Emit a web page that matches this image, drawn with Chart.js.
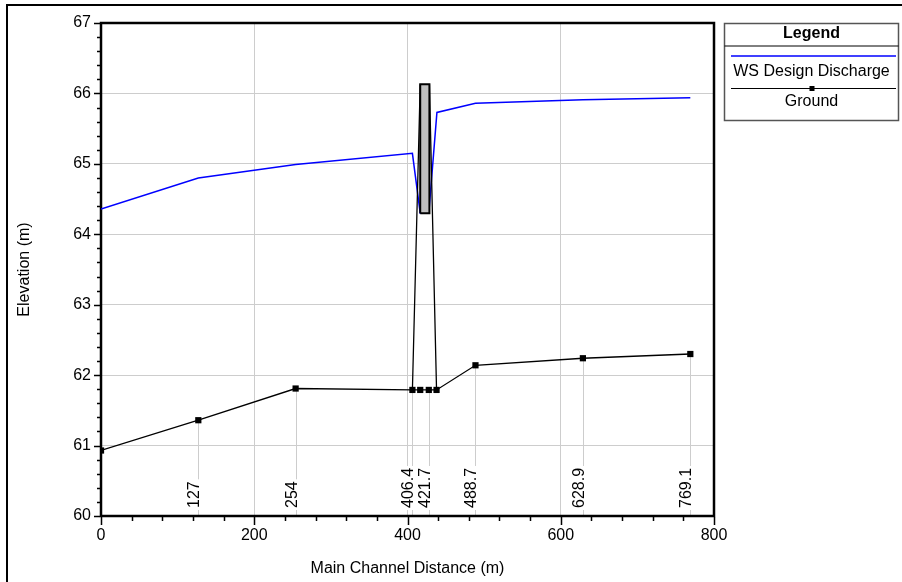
<!DOCTYPE html>
<html>
<head>
  <script src="https://cdn.jsdelivr.net/npm/chart.js@4.4.1/dist/chart.umd.min.js"></script>
  <style>
    * { margin: 0; padding: 0; box-sizing: border-box; }
    body { background: #fff; width: 902px; height: 582px; overflow: hidden; }
    canvas { display: block; }
  </style>
</head>
<body>
  <canvas id="profile" width="902" height="582"></canvas>

  <script>
    // profile data
    const groundX = [0, 127, 254, 406.4, 416.6, 427.8, 437.9, 488.7, 628.9, 769.1];
    const groundY = [60.93, 61.36, 61.81, 61.79, 61.79, 61.79, 61.79, 62.14, 62.24, 62.30];

    const wsX = [0, 127, 254, 406.4, 416.6, 427.8, 438.4, 488.7, 628.9, 769.1];
    const wsY = [64.36, 64.80, 64.99, 65.15, 64.30, 64.30, 65.73, 65.86, 65.91, 65.94];

    // bridge deck (low chord / high chord) and the side lines
    const deckX = [416.6, 416.6, 428.6, 428.6, 416.6];
    const deckY = [64.30, 66.13, 66.13, 64.30, 64.30];
    const sideX = [406.4, 416.6, 422, 428.6, 437.9];
    const sideY = [61.79, 66.13, null, 66.13, 61.79];

    // labelled cross sections
    const stationPos = [127, 254, 406.4, 427.8, 488.7, 628.9, 769.1];
    const stationLabels = ['127', '254', '406.4', '421.7', '488.7', '628.9', '769.1'];

    const xTicks = [0, 200, 400, 600, 800];
    const yTicks = [60, 61, 62, 63, 64, 65, 66, 67];

    const seriesNames = ['WS Design Discharge', 'Ground'];

    const FONT = '"Liberation Sans", Arial, sans-serif';
    const pts = (xs, ys) => xs.map((x, i) => ({ x: x, y: ys[i] }));

    const hecPlugin = {
      id: 'hec',
      beforeDraw(chart) {
        const ctx = chart.ctx;
        ctx.save();
        ctx.fillStyle = '#fff';
        ctx.fillRect(0, 0, chart.width, chart.height);
        // outer frame
        ctx.strokeStyle = '#000';
        ctx.lineWidth = 2;
        ctx.beginPath();
        ctx.moveTo(7, 600);
        ctx.lineTo(7, 5);
        ctx.lineTo(910, 5);
        ctx.stroke();
        ctx.restore();
      },
      beforeDatasetsDraw(chart) {
        const ctx = chart.ctx;
        const xs = chart.scales.x, ys = chart.scales.y;
        const area = chart.chartArea;
        ctx.save();
        ctx.font = '16px ' + FONT;
        stationPos.forEach((pos, i) => {
          const px = Math.round(xs.getPixelForValue(pos)) + 0.5;
          const gy = groundY[groundX.indexOf(pos)];
          const top = ys.getPixelForValue(gy);
          ctx.strokeStyle = '#cdcdcd';
          ctx.lineWidth = 1;
          ctx.beginPath();
          ctx.moveTo(px, top);
          ctx.lineTo(px, area.bottom);
          ctx.stroke();
          const w = ctx.measureText(stationLabels[i]).width;
          const base = 508;
          ctx.fillStyle = '#fff';
          ctx.fillRect(px - 14, base - w - 2, 16, w + 4);
          ctx.save();
          ctx.translate(px + 0.5, base);
          ctx.rotate(-Math.PI / 2);
          ctx.fillStyle = '#000';
          ctx.textAlign = 'left';
          ctx.textBaseline = 'alphabetic';
          ctx.fillText(stationLabels[i], 0, 0);
          ctx.restore();
        });
        // plot border
        ctx.strokeStyle = '#000';
        ctx.lineWidth = 2.5;
        ctx.strokeRect(area.left, area.top, area.right - area.left, area.bottom - area.top);
        ctx.restore();
      },
      afterDatasetsDraw(chart) {
        const ctx = chart.ctx;
        const xs = chart.scales.x, ys = chart.scales.y;
        const area = chart.chartArea;
        ctx.save();
        ctx.strokeStyle = '#000';
        ctx.lineWidth = 1.5;
        ctx.beginPath();
        for (let v = 60; v <= 67.001; v += 0.2) {
          const py = Math.round(ys.getPixelForValue(v)) + 0.5;
          const major = Math.abs(v - Math.round(v)) < 0.01;
          ctx.moveTo(area.left - 1, py);
          ctx.lineTo(area.left - (major ? 7 : 4), py);
        }
        for (let v = 0; v <= 800.001; v += 40) {
          const px = Math.round(xs.getPixelForValue(v)) + 0.5;
          const major = v % 200 === 0;
          ctx.moveTo(px, area.bottom + 1);
          ctx.lineTo(px, area.bottom + (major ? 9 : 5));
        }
        ctx.stroke();

        // axis titles
        ctx.fillStyle = '#000';
        ctx.font = '16px ' + FONT;
        ctx.textAlign = 'center';
        ctx.textBaseline = 'middle';
        ctx.fillText('Main Channel Distance (m)', (area.left + area.right) / 2, 569);
        ctx.save();
        ctx.translate(25, (area.top + area.bottom) / 2);
        ctx.rotate(-Math.PI / 2);
        ctx.fillText('Elevation (m)', 0, 0);
        ctx.restore();

        // legend box
        const lx = 724.5, ly = 23.5, lw = 174, lh = 97;
        const cx = lx + lw / 2;
        ctx.strokeStyle = '#555';
        ctx.lineWidth = 1.5;
        ctx.strokeRect(lx, ly, lw, lh);
        ctx.strokeStyle = '#000';
        ctx.lineWidth = 1;
        ctx.beginPath();
        ctx.moveTo(lx, 46);
        ctx.lineTo(lx + lw, 46);
        ctx.stroke();
        ctx.font = 'bold 16px ' + FONT;
        ctx.fillText('Legend', cx, 34);
        ctx.font = '16px ' + FONT;
        ctx.strokeStyle = '#0000ff';
        ctx.lineWidth = 1.5;
        ctx.beginPath();
        ctx.moveTo(731, 56);
        ctx.lineTo(896, 56);
        ctx.stroke();
        ctx.fillText(seriesNames[0], cx, 72);
        ctx.strokeStyle = '#000';
        ctx.lineWidth = 1;
        ctx.beginPath();
        ctx.moveTo(731, 88.5);
        ctx.lineTo(896, 88.5);
        ctx.stroke();
        ctx.fillRect(cx + 0.5 - 2.5, 88.5 - 2.5, 5, 5);
        ctx.fillText(seriesNames[1], cx, 102);
        ctx.restore();
      }
    };

    new Chart(document.getElementById('profile'), {
      type: 'scatter',
      data: {
        datasets: [
          {
            label: 'Bridge',
            data: pts(deckX, deckY),
            showLine: true,
            fill: 'shape',
            backgroundColor: '#c0c0c0',
            borderColor: '#000',
            borderWidth: 2,
            pointRadius: 0,
            order: 0
          },
          {
            label: 'Bridge sides',
            data: pts(sideX, sideY),
            showLine: true,
            spanGaps: false,
            borderColor: '#000',
            borderWidth: 1.3,
            pointRadius: 0,
            order: 1
          },
          {
            label: seriesNames[0],
            data: pts(wsX, wsY),
            showLine: true,
            borderColor: '#0000ff',
            borderWidth: 1.5,
            pointRadius: 0,
            order: 2
          },
          {
            label: seriesNames[1],
            data: pts(groundX, groundY),
            showLine: true,
            borderColor: '#000',
            borderWidth: 1.3,
            pointStyle: 'rect',
            pointRadius: 4.4,
            pointBackgroundColor: '#000',
            pointBorderWidth: 0,
            order: 3
          }
        ]
      },
      options: {
        responsive: false,
        animation: false,
        layout: { padding: { left: 0, top: 23, right: 188, bottom: 0 } },
        plugins: {
          legend: { display: false },
          tooltip: { enabled: false }
        },
        scales: {
          x: {
            type: 'linear',
            min: 0,
            max: 800,
            afterBuildTicks: s => { s.ticks = xTicks.map(v => ({ value: v })); },
            afterFit: s => { s.height = 66; },
            ticks: { color: '#000', font: { family: FONT, size: 16 }, padding: 10, maxRotation: 0 },
            grid: { color: '#cdcdcd', lineWidth: 1, drawTicks: false },
            border: { display: false }
          },
          y: {
            type: 'linear',
            min: 60,
            max: 67,
            afterBuildTicks: s => { s.ticks = yTicks.map(v => ({ value: v })); },
            afterFit: s => { s.width = 101; },
            ticks: { color: '#000', font: { family: FONT, size: 16 }, padding: 10 },
            grid: { color: '#cdcdcd', lineWidth: 1, drawTicks: false },
            border: { display: false }
          }
        }
      },
      plugins: [hecPlugin]
    });
  </script>
</body>
</html>
